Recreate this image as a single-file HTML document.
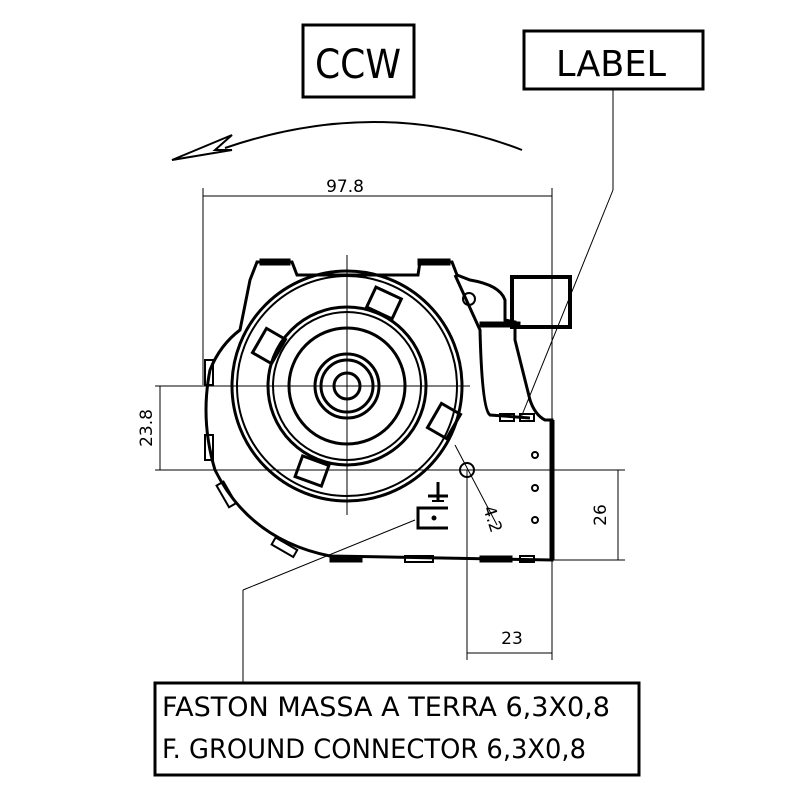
<!DOCTYPE html>
<html><head><style>
html,body{margin:0;padding:0;background:#fff;}
svg{display:block;font-family:"DejaVu Sans","Liberation Sans",sans-serif;}
</style></head><body>
<svg width="800" height="800" viewBox="0 0 800 800" xmlns="http://www.w3.org/2000/svg">
<rect width="800" height="800" fill="#fff"/>
<!-- CCW box -->
<rect x="303" y="25" width="111" height="72" fill="none" stroke="#000" stroke-width="3"/>
<text x="358" y="78" font-size="40" text-anchor="middle" textLength="86" lengthAdjust="spacingAndGlyphs">CCW</text>
<!-- LABEL box -->
<rect x="524" y="31" width="179" height="58" fill="none" stroke="#000" stroke-width="3"/>
<text x="611" y="76" font-size="36" text-anchor="middle" textLength="110" lengthAdjust="spacingAndGlyphs">LABEL</text>
<!-- arrow -->
<path d="M522 150 Q380 95 225 148" fill="none" stroke="#000" stroke-width="2"/>
<path d="M172 160 L232 135 L215 150 L232 150 Z" fill="none" stroke="#000" stroke-width="2"/>
<!-- dim 97.8 -->
<line x1="203" y1="196" x2="552" y2="196" stroke="#000" stroke-width="1"/>
<line x1="203" y1="188" x2="203" y2="385" stroke="#000" stroke-width="1"/>
<line x1="552" y1="188" x2="552" y2="420" stroke="#000" stroke-width="1"/>
<text x="345" y="192" font-size="17" text-anchor="middle">97.8</text>
<!-- label leader -->
<line x1="613" y1="89" x2="613" y2="190" stroke="#000" stroke-width="1"/>
<line x1="613" y1="190" x2="520" y2="420" stroke="#000" stroke-width="1"/>
<!-- dim 23.8 -->
<line x1="155" y1="386" x2="240" y2="386" stroke="#000" stroke-width="1"/>
<line x1="155" y1="470" x2="625" y2="470" stroke="#000" stroke-width="1"/>
<line x1="160" y1="386" x2="160" y2="470" stroke="#000" stroke-width="1"/>
<text x="0" y="0" font-size="17" text-anchor="middle" transform="translate(152,428) rotate(-90)">23.8</text>
<!-- dim 26 -->
<line x1="552" y1="560" x2="625" y2="560" stroke="#000" stroke-width="1"/>
<line x1="618" y1="470" x2="618" y2="560" stroke="#000" stroke-width="1"/>
<text x="0" y="0" font-size="17" text-anchor="middle" transform="translate(606,515) rotate(-90)">26</text>
<!-- dim 23 -->
<line x1="467" y1="470" x2="467" y2="660" stroke="#000" stroke-width="1"/>
<line x1="552" y1="560" x2="552" y2="660" stroke="#000" stroke-width="1"/>
<line x1="467" y1="653" x2="552" y2="653" stroke="#000" stroke-width="1"/>
<text x="512" y="644" font-size="17" text-anchor="middle">23</text>
<!-- centerlines -->
<line x1="347" y1="255" x2="347" y2="515" stroke="#000" stroke-width="1"/>
<line x1="220" y1="386" x2="470" y2="386" stroke="#000" stroke-width="1"/>
<g fill="none" stroke="#000">
<!-- housing -->
<path d="M257 262 L292 262 L297 275 L418 275 L420 262 L452 262 L457 275 L470 280 Q500 285 505 300 L505 320 L515 322 L515 340 Q520 360 530 400 Q535 415 545 420 L552 420 L552 560 L330 556 Q250 540 215 470 Q200 420 210 370 Q220 345 240 330 L250 280 Z" stroke-width="3"/>
<path d="M455 275 L480 330 Q482 410 490 415 L530 418" stroke-width="3"/>
<rect x="512" y="277" width="58" height="50" stroke-width="4"/>
<rect x="260" y="259" width="30" height="6" fill="#000"/>
<rect x="418" y="259" width="32" height="6" fill="#000"/>
<rect x="480" y="322" width="40" height="5" fill="#000"/>
<rect x="330" y="556" width="32" height="6" fill="#000"/>
<rect x="480" y="556" width="32" height="6" fill="#000"/>
<line x1="552" y1="420" x2="552" y2="560" stroke-width="5"/>
<circle cx="469" cy="299" r="6" stroke-width="2"/>
<!-- circles -->
<circle cx="347" cy="386" r="115" stroke-width="3"/>
<circle cx="347" cy="386" r="110" stroke-width="2"/>
<circle cx="347" cy="386" r="79" stroke-width="3"/>
<circle cx="347" cy="386" r="74" stroke-width="2"/>
<circle cx="347" cy="386" r="58" stroke-width="3"/>
<circle cx="347" cy="386" r="32" stroke-width="3"/>
<circle cx="347" cy="386" r="26" stroke-width="3"/>
<circle cx="347" cy="386" r="13" stroke-width="3"/>
<!-- tabs -->
<rect x="370" y="292" width="28" height="22" stroke-width="3" transform="rotate(25 384 303)"/>
<rect x="255" y="335" width="28" height="22" stroke-width="3" transform="rotate(-60 269 346)"/>
<rect x="430" y="410" width="28" height="22" stroke-width="3" transform="rotate(-60 444 421)"/>
<rect x="298" y="460" width="28" height="22" stroke-width="3" transform="rotate(20 312 471)"/>
<!-- side holes -->
<circle cx="467" cy="470" r="7" stroke-width="2"/>
<circle cx="535" cy="455" r="3" stroke-width="2"/>
<circle cx="535" cy="488" r="3" stroke-width="2"/>
<circle cx="535" cy="520" r="3" stroke-width="2"/>
<line x1="455" y1="445" x2="497" y2="525" stroke-width="1"/>
<!-- ground connector -->
<path d="M448 508 L418 508 L418 528 L448 528" stroke-width="3"/>
<circle cx="434" cy="518" r="2" fill="#000"/>
<line x1="438" y1="482" x2="438" y2="500" stroke-width="3"/>
<line x1="428" y1="496" x2="448" y2="496" stroke-width="3"/>
<line x1="432" y1="501" x2="444" y2="501" stroke-width="2"/>
<line x1="415" y1="520" x2="243" y2="590" stroke-width="1"/>
<line x1="243" y1="590" x2="243" y2="683" stroke-width="1"/>
<!-- small slots -->
<rect x="500" y="414" width="14" height="7" stroke-width="2"/>
<rect x="520" y="414" width="14" height="7" stroke-width="2"/>
<rect x="405" y="556" width="28" height="6" stroke-width="2"/>
<rect x="520" y="556" width="14" height="6" stroke-width="2"/>
<rect x="205" y="360" width="8" height="25" stroke-width="2"/>
<rect x="205" y="435" width="8" height="25" stroke-width="2"/>
<rect x="222" y="482" width="8" height="25" stroke-width="2" transform="rotate(-30 226 494)"/>
<rect x="280" y="535" width="8" height="25" stroke-width="2" transform="rotate(-60 284 547)"/>
</g>
<text x="0" y="0" font-size="17" transform="translate(483,508) rotate(72)">4.2</text>
<!-- bottom box -->
<rect x="155" y="683" width="484" height="92" fill="none" stroke="#000" stroke-width="3"/>
<text x="162" y="716" font-size="27" textLength="448" lengthAdjust="spacingAndGlyphs">FASTON MASSA A TERRA 6,3X0,8</text>
<text x="162" y="758" font-size="27" textLength="424" lengthAdjust="spacingAndGlyphs">F. GROUND  CONNECTOR 6,3X0,8</text>
</svg>
</body></html>
